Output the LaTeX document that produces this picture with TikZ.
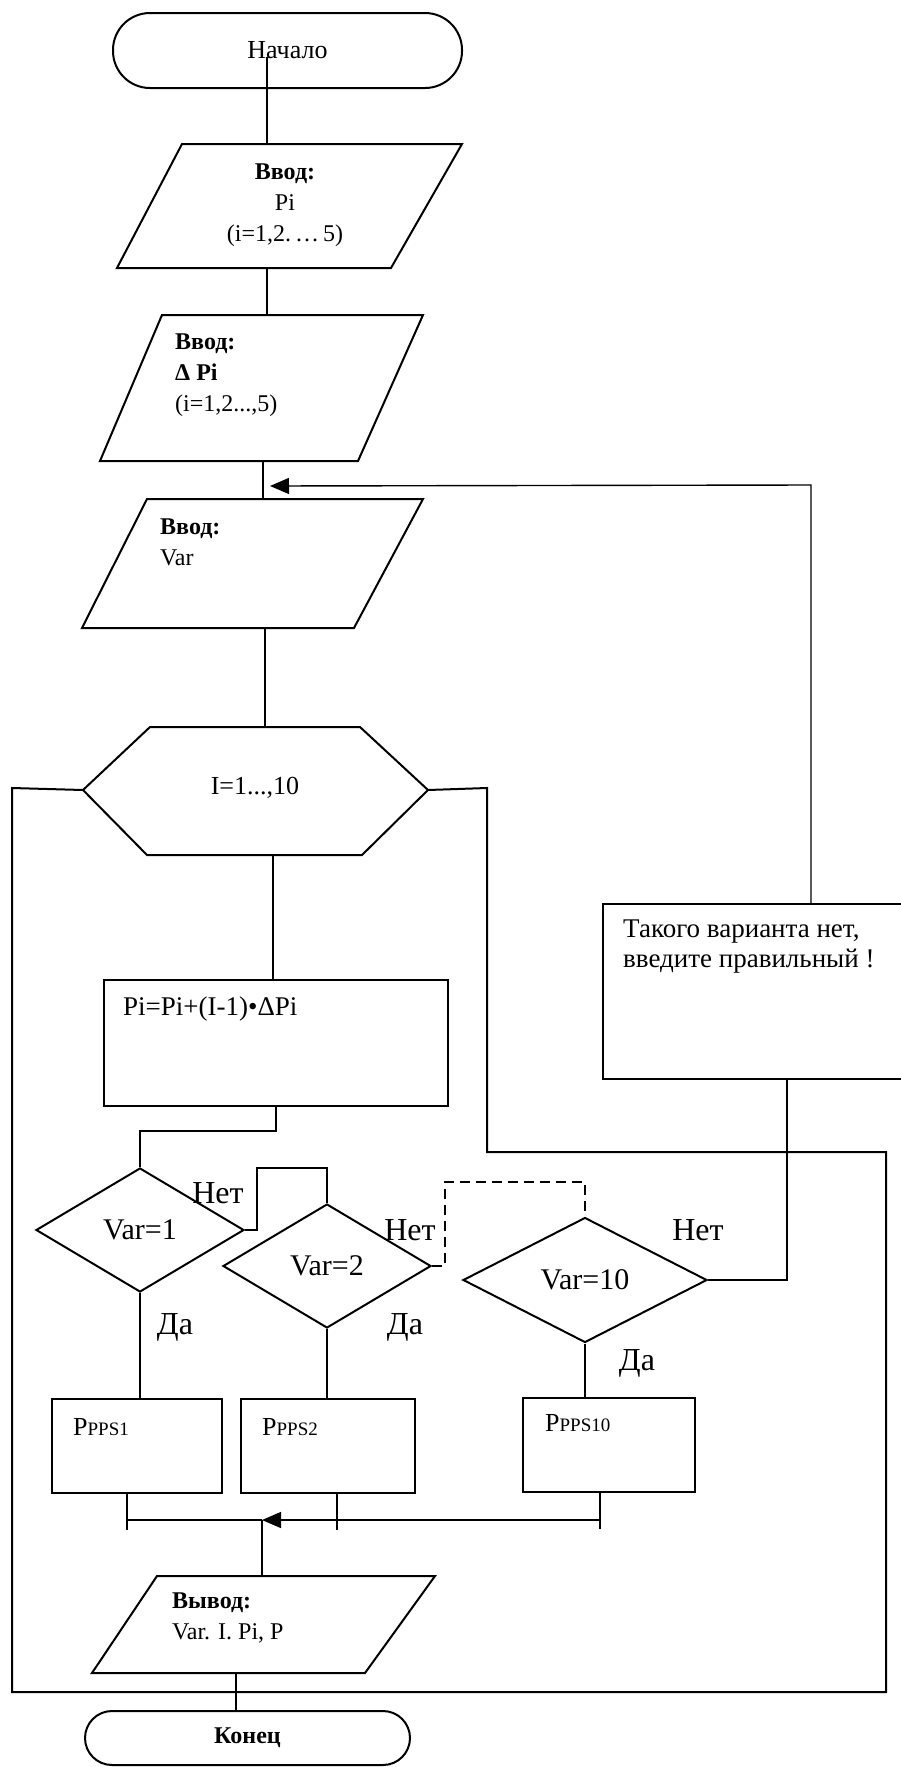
\documentclass[tikz,border=0pt]{standalone}
\usepackage{fontspec}
\setmainfont{Liberation Serif}
\usetikzlibrary{arrows.meta,shapes.geometric,calc}
\tikzset{
  shp/.style={draw, line width=2pt},
  conn/.style={line width=1.4pt},
  loopline/.style={line width=2pt},
  txt/.style={inner sep=0pt, align=left, font=\fontsize{24}{31}\selectfont},
  lbl/.style={inner sep=0pt, font=\fontsize{32}{36}\selectfont},
  dec/.style={shp, diamond, inner sep=0pt, font=\fontsize{30}{34}\selectfont},
  box/.style={shp, rectangle, inner sep=0pt},
  term/.style={shp, rectangle, inner sep=0pt},
  tip/.style={-{Triangle[length=19pt,width=16pt]}}
}
\begin{document}
\begin{tikzpicture}[x=1pt,y=-1pt]
\useasboundingbox (0,0) rectangle (901,1767);

% ---- start
\node[term, rounded corners=37pt, minimum width=349pt, minimum height=75pt,
      font=\fontsize{26}{30}\selectfont] (start) at (287.5,50.5) {Начало};
\coordinate (s0) at (267,57);

% ---- input Pi
\draw[shp] (182,144) -- (462,144) -- (391,268) -- (117,268) -- cycle;
\node[txt, align=center] (p1) at (285,205) {\textbf{Ввод:}\\Pi\\(i=1,2.\,…\,5)};
\coordinate (p1in) at (267,144);
\coordinate (p1out) at (267,268);

% ---- input dPi
\draw[shp] (162,315) -- (423,315) -- (358,461) -- (100,461) -- cycle;
\node[txt, anchor=west] (p2) at (175,375) {\textbf{Ввод:}\\\textbf{Δ Pi}\\(i=1,2...,5)};
\coordinate (p2in) at (267,315);
\coordinate (p2out) at (263,461);

% ---- input Var
\draw[shp] (147,499) -- (423,499) -- (354,628) -- (82,628) -- cycle;
\node[txt, anchor=west] (p3) at (160,542) {\textbf{Ввод:}\\Var};
\coordinate (p3in) at (263,499);
\coordinate (p3out) at (265,628);
\coordinate (arr) at (270,486);

% ---- loop hexagon
\draw[shp] (150,727) -- (360,727) -- (428,790) -- (362,855) -- (147,855) -- (83,790) -- cycle;
\node[inner sep=0pt, font=\fontsize{26}{30}\selectfont] (hex) at (255,788) {I=1...,10};
\coordinate (hexin) at (265,727);
\coordinate (hexout) at (273,855);
\coordinate (hexW) at (83,790);
\coordinate (hexE) at (428,790);

% ---- calculation
\node[box, minimum width=344pt, minimum height=126pt] (calc) at (276,1043) {};
\node[inner sep=0pt, anchor=west, font=\fontsize{27}{30}\selectfont] (calctxt) at (123,1009) {Pi=Pi+(I-1)•ΔPi};

% ---- error message
\node[box, anchor=north west, minimum width=312pt, minimum height=175pt] (err) at (602,903) {};
\node[txt, anchor=west, font=\fontsize{27}{30}\selectfont] (errtxt) at (623,947) {Такого варианта нет,\\введите правильный !};
\coordinate (errin) at (811,903);
\coordinate (errbot) at (787,1078);

% ---- decisions
\node[dec, minimum width=208pt, minimum height=124pt] (d1) at (140,1230) {Var=1};
\node[dec, minimum width=208pt, minimum height=124pt] (d2) at (327,1266) {Var=2};
\node[dec, minimum width=244pt, minimum height=125pt] (d10) at (585,1280) {Var=10};

% ---- process boxes
\node[box, minimum width=170pt, minimum height=94pt] (b1) at (137,1446) {};
\node[box, minimum width=174pt, minimum height=94pt] (b2) at (328,1446) {};
\node[box, minimum width=172pt, minimum height=94pt] (b10) at (609,1445) {};
\node[inner sep=0pt, anchor=west, font=\fontsize{26}{30}\selectfont] (t1) at (73,1427) {P{\fontsize{19}{22}\selectfont PPS1}};
\node[inner sep=0pt, anchor=west, font=\fontsize{26}{30}\selectfont] (t2) at (262,1427) {P{\fontsize{19}{22}\selectfont PPS2}};
\node[inner sep=0pt, anchor=west, font=\fontsize{26}{30}\selectfont] (t10) at (545,1423) {P{\fontsize{19}{22}\selectfont PPS10}};
\coordinate (b1out) at (127,1493);
\coordinate (b2out) at (337,1493);
\coordinate (b10out) at (600,1492);
\coordinate (bar) at (262,1520);

% ---- output
\draw[shp] (157,1576) -- (435,1576) -- (365,1673) -- (92,1673) -- cycle;
\node[txt, anchor=west] (p4) at (172,1618) {\textbf{Вывод:}\\Var. I. Pi, P};
\coordinate (p4in) at (262,1576);
\coordinate (p4out) at (236,1673);

% ---- end
\node[term, rounded corners=27pt, minimum width=325pt, minimum height=54pt,
      font=\bfseries\fontsize{24}{28}\selectfont] (end) at (247.5,1738) {Конец};

% ---- connectors
\draw[conn] (s0) -- (p1in);
\draw[conn] (p1out) -- (p2in);
\draw[conn] (p2out) -- (p3in);
\draw[conn] (p3out) -- (hexin);
\draw[conn] (hexout) -- (hexout |- calc.north);
\draw[conn, tip] (errin) -- (811,485) -- (arr);

% loop frame
\draw[loopline] (hexW) -- (12,788) -- (12,1692) -- (886,1692) -- (886,1152) -- (487,1152) -- (487,788) -- (hexE);

\draw[conn] (calc.south) -- ++(0,24) -| (d1.north);
\draw[conn] (d1.east) -- (257,1230) -- (257,1168) -| (d2.north);
\draw[conn, dash pattern=on 10pt off 6pt] (d2.east) -- (445,1266) -- (445,1182) -| (d10.north);
\draw[conn] (d10.east) -| (errbot);

\node[lbl] (n1) at (218,1193) {Нет};
\node[lbl] (n2) at (410,1230) {Нет};
\node[lbl] (n10) at (698,1230) {Нет};
\node[lbl] (y1) at (175,1327) {Да};
\node[lbl] (y2) at (405,1327) {Да};
\node[lbl] (y10) at (637,1363) {Да};

\draw[conn] (d1.south) -- (d1.south |- b1.north);
\draw[conn] (d2.south) -- (d2.south |- b2.north);
\draw[conn] (d10.south) -- (d10.south |- b10.north);

\draw[conn] (b1out) -- ++(0,37);
\draw[conn] (b2out) -- ++(0,37);
\draw[conn] (b10out) -- ++(0,37);
\draw[conn] (b1out |- bar) -- (bar);
\draw[conn, tip] (b10out |- bar) -- (bar);
\draw[conn] (bar) -- (p4in);
\draw[conn] (p4out) -- (p4out |- end.north);
\end{tikzpicture}
\end{document}
